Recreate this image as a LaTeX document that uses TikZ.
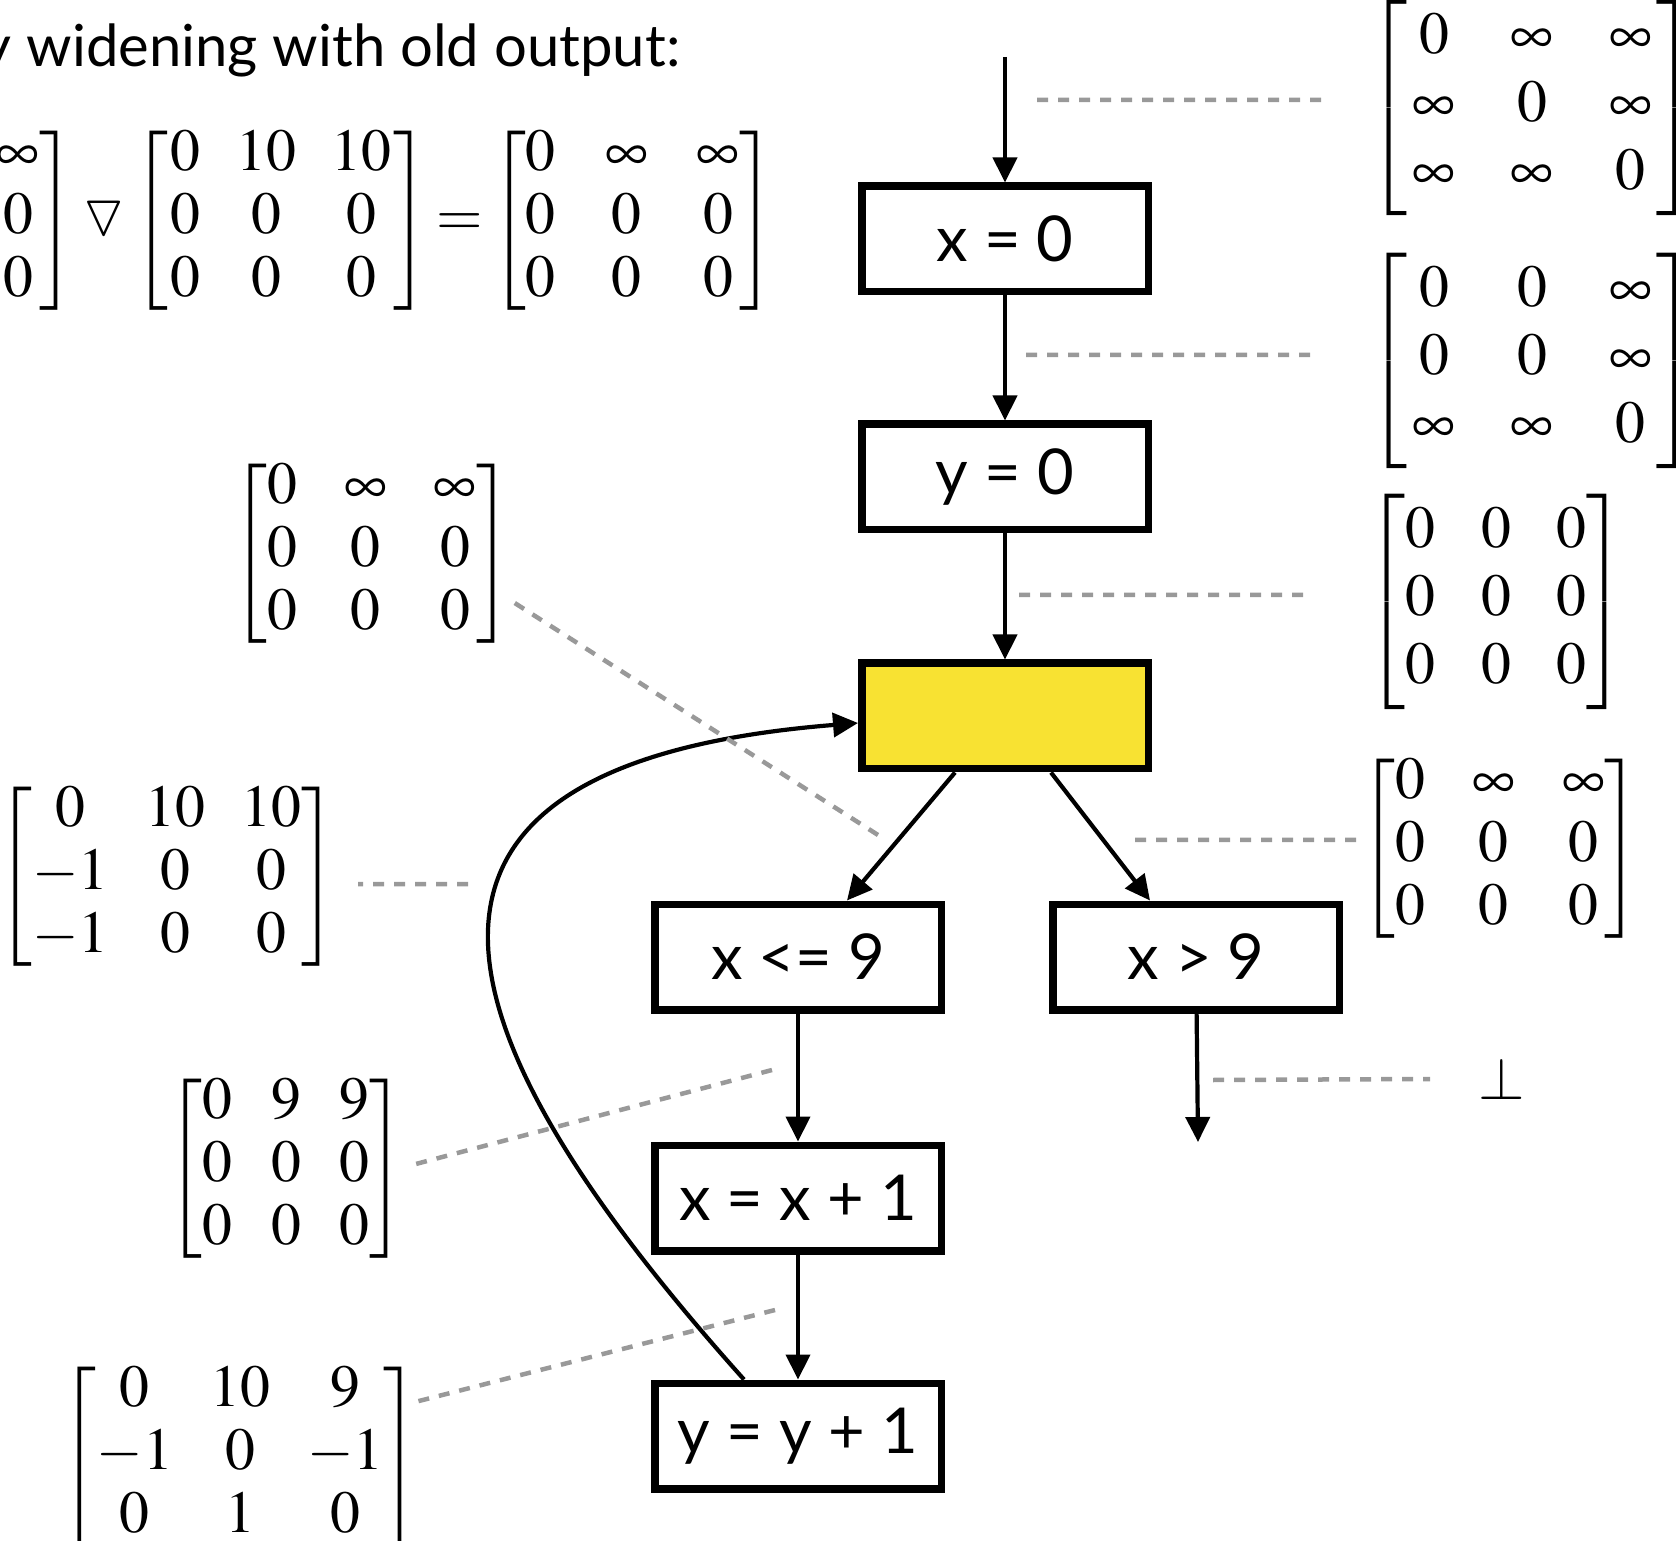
\documentclass[tikz,border=0pt]{standalone}
\usepackage{amsmath,amssymb}
\usepackage{mathptmx}
\usepackage[no-math]{fontspec}
\newfontfamily\slidefont{Lato}
\usetikzlibrary{arrows.meta}
\definecolor{loophead}{RGB}{248,226,50}
\definecolor{notegray}{RGB}{153,153,153}
% bracketed 3x3 matrix: column sep, edge sep, rows
\newcommand{\dbm}[3]{{\setlength{\arraycolsep}{#1}\left[\begin{array}{@{\hspace{#2}}ccc@{\hspace{#2}}}#3\end{array}\right]}}
\begin{document}
\begin{tikzpicture}[x=0.1mm, y=-0.1mm,
    block/.style={draw, line width=0.75mm, minimum width=28.65mm, minimum height=10.55mm,
      inner sep=0pt, font=\slidefont\fontsize{18}{20}\selectfont},
    flow/.style={line width=0.42mm, -{Triangle[length=2.5mm, width=2.4mm]}},
    note/.style={draw=notegray, line width=0.45mm, dash pattern=on 1.1mm off 1mm},
    mat/.style={inner sep=0pt, font=\fontsize{17}{18}\selectfont},
    bigmat/.style={inner sep=0pt, font=\fontsize{17}{19.3}\selectfont}]
  \useasboundingbox (0,0) rectangle (1676,1541);
  \clip (0,0) rectangle (1676,1541);

  % heading and widening step
  \node[anchor=base east, inner sep=0pt, font=\slidefont\fontsize{16.5}{19}\selectfont]
    (title) at (681,67) {y widening with old output:};
  \node[mat, anchor=east] (widen) at (775,221)
    {$\dbm{6.5pt}{0pt}{0&\infty&\infty\\0&0&0\\0&0&0}
      \mathbin{\triangledown}
      \dbm{5.1pt}{0.5pt}{0&10&10\\0&0&0\\0&0&0}
      \mskip-1.5mu=\mskip-1.5mu
      \dbm{7pt}{0pt}{0&\infty&\infty\\0&0&0\\0&0&0}$};

  % control flow graph
  \coordinate (entry) at (1005,57);
  \node[block] (x0) at (1005,239) {x = 0};
  \node[block] (y0) at (1005,477) {y = 0};
  \node[block, fill=loophead] (head) at (1005,716) {};
  \node[block] (le) at (798,957) {x <= 9};
  \node[block] (gt) at (1196,957) {x > 9};
  \node[block] (incx) at (798,1198) {x = x + 1};
  \node[block] (incy) at (798,1436) {y = y + 1};
  \coordinate (exit) at (1198,1142);

  \draw[flow] (entry) -- (x0);
  \draw[flow] (x0) -- (y0);
  \draw[flow] (y0) -- (head);
  \draw[flow] ([xshift=-5mm]head.south) -- ([xshift=4.9mm]le.north);
  \draw[flow] ([xshift=4.6mm]head.south) -- ([xshift=-4.6mm]gt.north);
  \draw[flow] (le) -- (incx);
  \draw[flow] (incx) -- (incy);
  \draw[flow] (gt) -- (exit);
  \draw[flow] ([xshift=-5.4mm]incy.north) .. controls (440,1040) and (335,765) .. ([yshift=-0.7mm]head.west);

  % abstract states
  \node[bigmat, anchor=west] (m1) at (1367,108)
    {$\dbm{7.9pt}{1.5pt}{0&\infty&\infty\\\infty&0&\infty\\\infty&\infty&0}$};
  \node[bigmat, anchor=west] (m2) at (1367,361)
    {$\dbm{7.9pt}{1.5pt}{0&0&\infty\\0&0&\infty\\\infty&\infty&0}$};
  \node[bigmat, anchor=west] (m3) at (1365,602)
    {$\dbm{6.5pt}{0pt}{0&0&0\\0&0&0\\0&0&0}$};
  \node[mat, anchor=west] (m4) at (1360,849)
    {$\dbm{6.7pt}{0pt}{0&\infty&\infty\\0&0&0\\0&0&0}$};
  \node[mat] (bot) at (1502,1079) {$\bot$};
  \node[mat, anchor=east] (m5) at (512,554)
    {$\dbm{6.7pt}{0pt}{0&\infty&\infty\\0&0&0\\0&0&0}$};
  \node[mat, anchor=east] (m6) at (337,877)
    {$\dbm{5.2pt}{0pt}{0&10&10\\-1&0&0\\-1&0&0}$};
  \node[mat, anchor=east] (m7) at (405,1169)
    {$\dbm{5.5pt}{0pt}{0&9&9\\0&0&0\\0&0&0}$};
  \node[mat, anchor=east] (m8) at (419,1457)
    {$\dbm{5.3pt}{0pt}{0&10&9\\-1&0&-1\\0&1&0}$};

  % dashed pointers from edges to states
  \coordinate (n1) at (1037,100);
  \coordinate (n2) at (1026,355);
  \coordinate (n3) at (1019,595);
  \coordinate (n4) at (1135,840);
  \coordinate (n5) at (1213,1080);
  \coordinate (n6) at (878,835);
  \coordinate (n7) at (468,884);
  \coordinate (n8) at (772,1070);
  \coordinate (n9) at (775,1310);
  \draw[note] (n1) -- ([xshift=-4mm, yshift=0.8mm]m1.west);
  \draw[note] (n2) -- ([xshift=-5.2mm, yshift=0.6mm]m2.west);
  \draw[note] (n3) -- ([xshift=-5.8mm, yshift=0.7mm]m3.west);
  \draw[note] (n4) -- ([yshift=0.9mm]m4.west);
  \draw[note] (n5) -- ([xshift=-4.8mm]bot.west);
  \draw[note] (n6) -- ([xshift=-0.2mm, yshift=-4.6mm]m5.east);
  \draw[note] (n7) -- ([xshift=2.1mm, yshift=-0.7mm]m6.east);
  \draw[note] (n8) -- ([xshift=0.7mm, yshift=0.4mm]m7.east);
  \draw[note] (n9) -- ([xshift=-0.4mm, yshift=5.5mm]m8.east);
\end{tikzpicture}
\end{document}
